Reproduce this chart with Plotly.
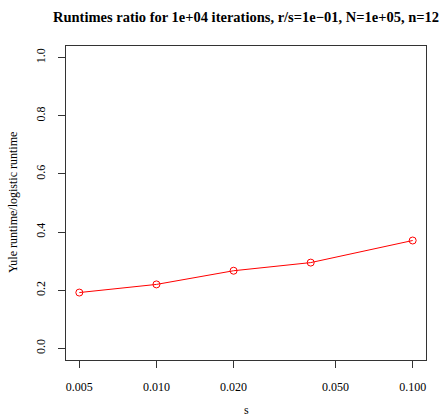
import plotly.graph_objects as go

s_values = [0.005, 0.01, 0.02, 0.04, 0.1]
ratio = [0.192, 0.220, 0.267, 0.295, 0.371]
x_ticks = [0.005, 0.01, 0.02, 0.05, 0.1]
x_ticktext = ["0.005", "0.010", "0.020", "0.050", "0.100"]
y_ticks = [0.0, 0.2, 0.4, 0.6, 0.8, 1.0]
y_ticktext = ["0.0", "0.2", "0.4", "0.6", "0.8", "1.0"]

FONT = "Liberation Serif, Times New Roman, serif"

fig = go.Figure()
fig.add_trace(go.Scatter(
    x=s_values, y=ratio, mode="lines+markers",
    line=dict(color="#ff0000", width=1),
    marker=dict(symbol="circle-open", size=7, color="#ff0000", line=dict(width=1, color="#ff0000")),
    showlegend=False,
))

fig.update_layout(
    width=443, height=417,
    margin=dict(l=66, r=17, t=46, b=57),
    paper_bgcolor="white", plot_bgcolor="white",
    font=dict(family=FONT, size=12, color="black"),
    title=dict(text="<b>Runtimes ratio for 1e+04 iterations, r/s=1e\u221201, N=1e+05, n=12</b>",
               x=0.5, xref="paper", xanchor="center", y=1 - 17 / 417, yanchor="middle",
               font=dict(family=FONT, size=14.5, color="black")),
    xaxis=dict(type="log", range=[-2.353, -0.948], tickvals=x_ticks, ticktext=x_ticktext,
               showgrid=False, zeroline=False, showline=True, mirror=True, linecolor="#333",
               linewidth=1, ticks="outside", ticklen=7, tickcolor="#333",
               ticklabelstandoff=9, tickfont=dict(size=12)),
    yaxis=dict(range=[-0.04, 1.04], tickvals=y_ticks, ticktext=y_ticktext,
               showgrid=False, zeroline=False, showline=True, mirror=True, linecolor="#333",
               linewidth=1, ticks="outside", ticklen=7, tickcolor="#333", tickangle=-90,
               ticklabelstandoff=8, tickfont=dict(size=12)),
    annotations=[
        dict(text="s", xref="paper", yref="paper", x=0.5, y=-(410 - 360) / 314,
             xanchor="center", yanchor="middle", showarrow=False, font=dict(size=12)),
        dict(text="Yule runtime/logistic runtime", xref="paper", yref="paper",
             x=-(66 - 13) / 360, y=0.5, textangle=-90, xanchor="center", yanchor="middle",
             showarrow=False, font=dict(size=12)),
    ],
)

fig.write_html("out.html")
